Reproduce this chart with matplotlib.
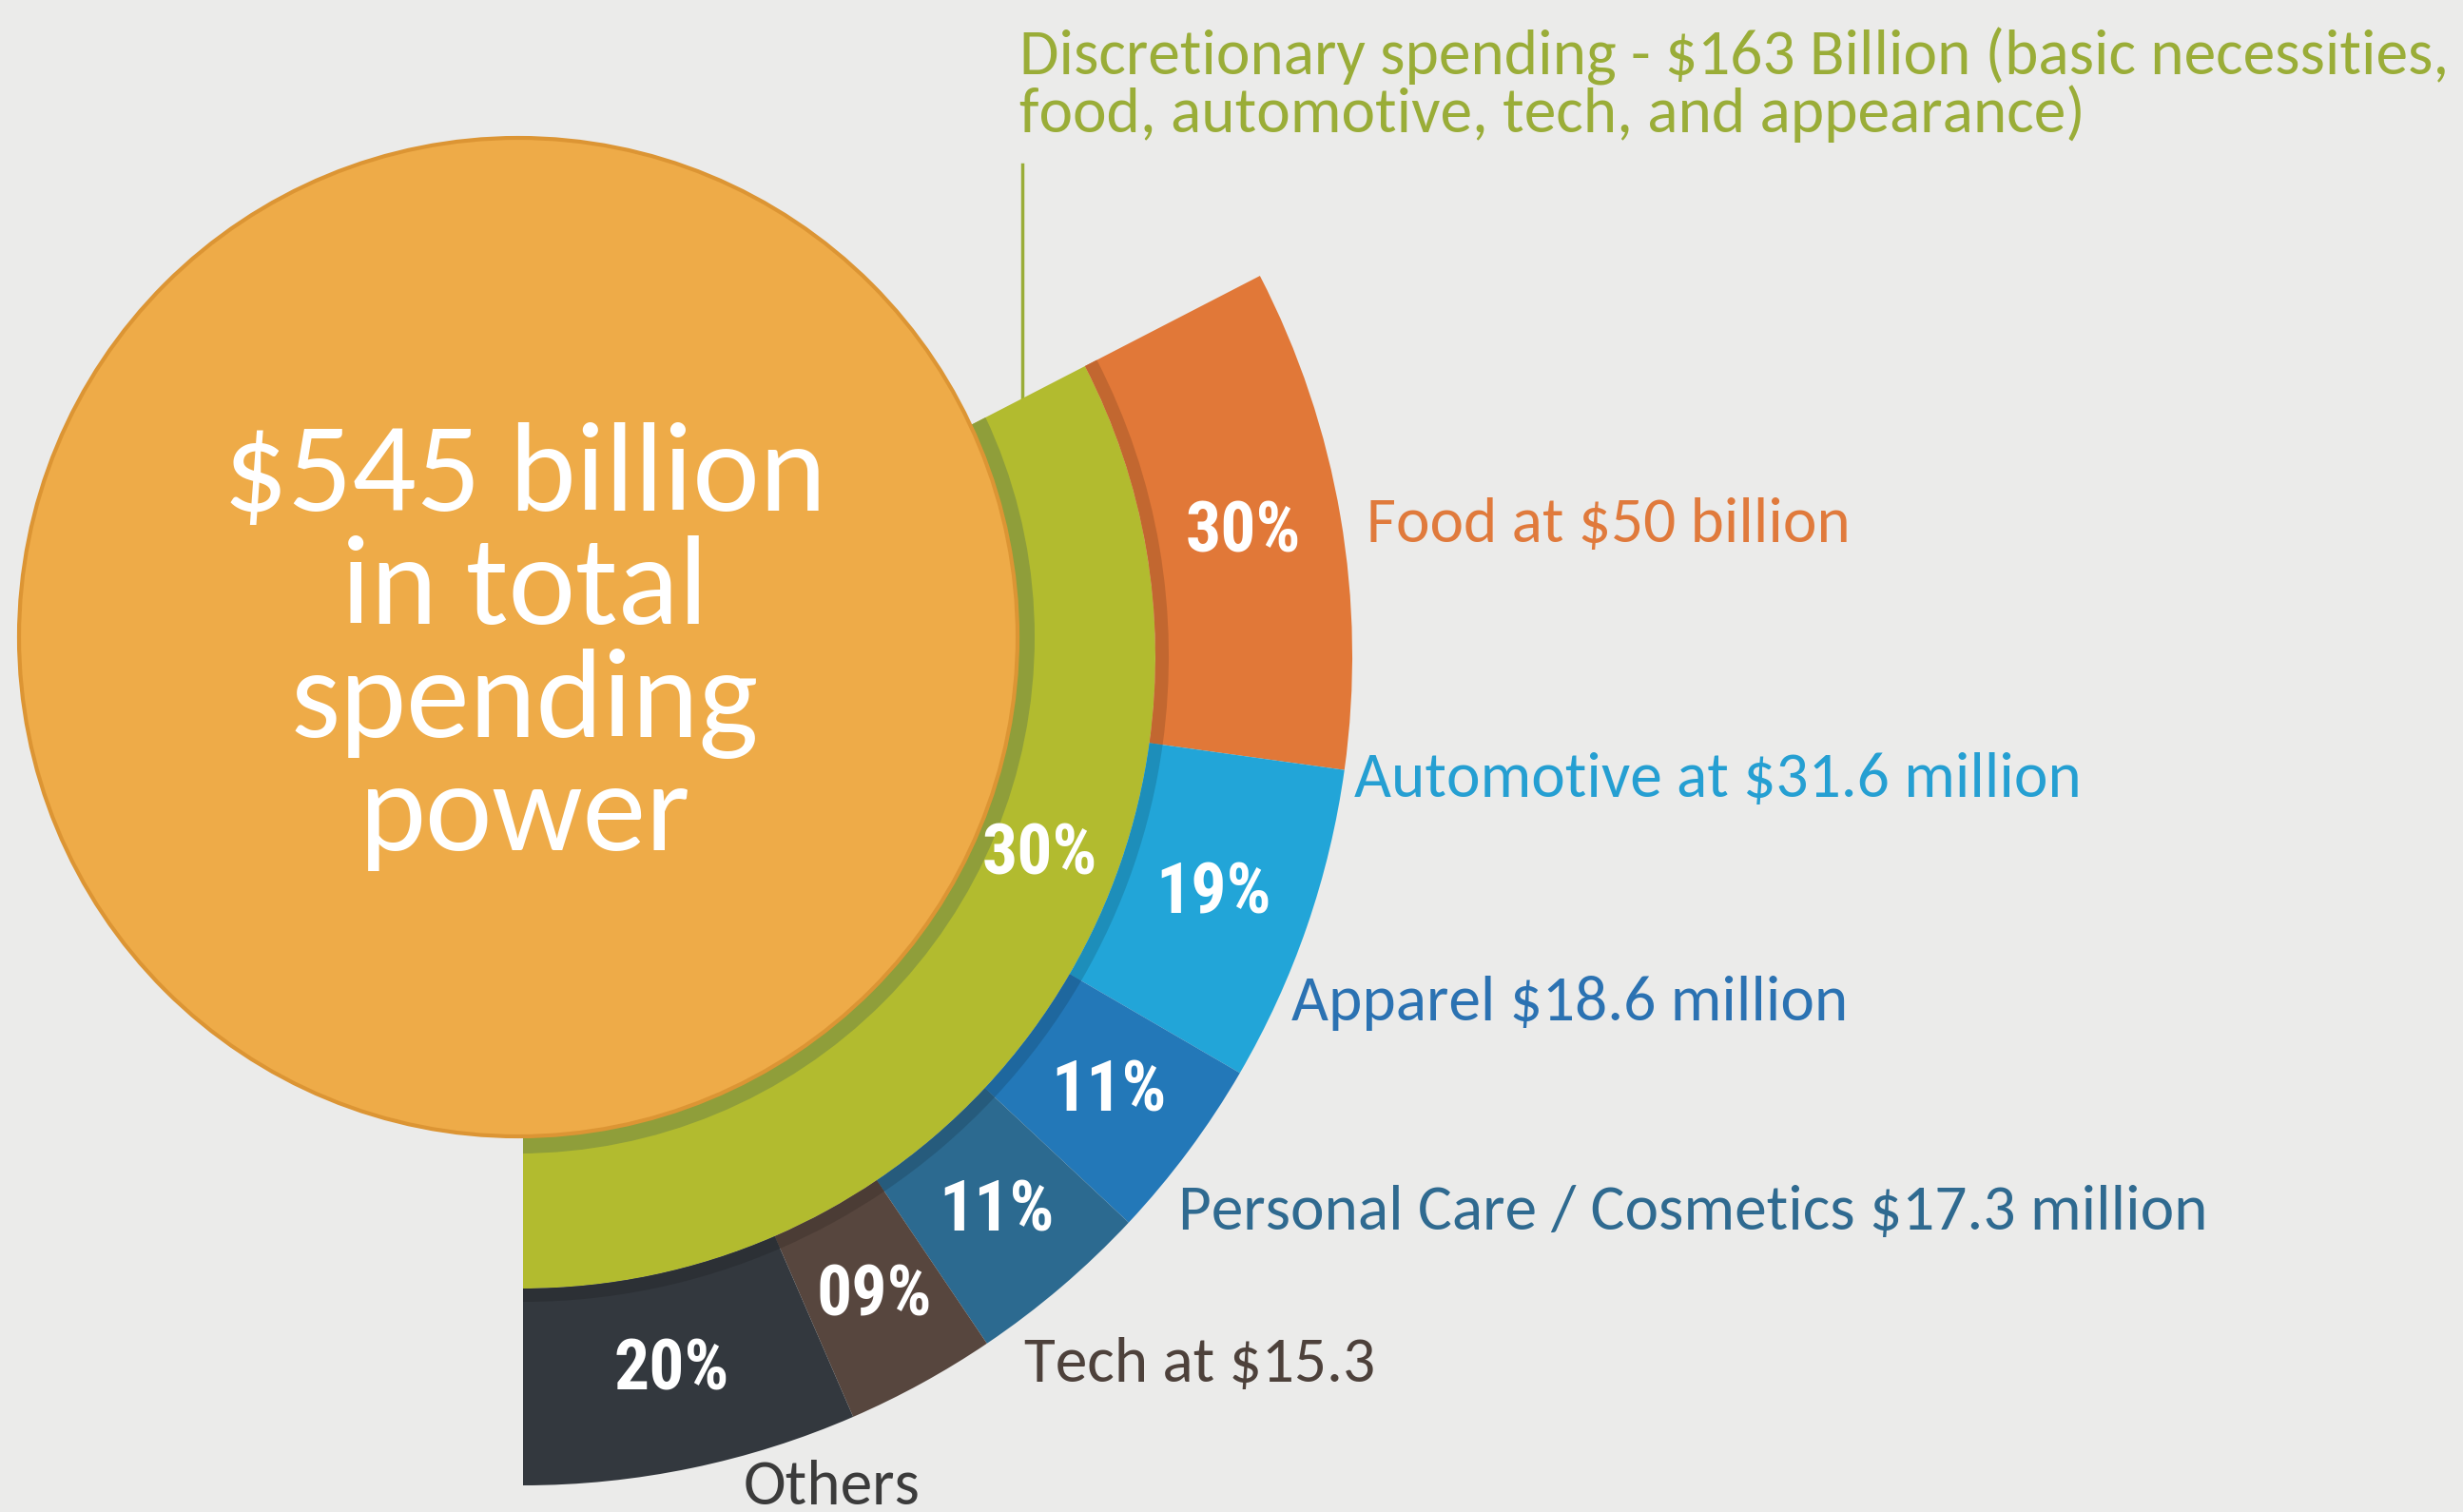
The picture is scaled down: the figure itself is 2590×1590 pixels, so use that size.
import matplotlib
matplotlib.use("Agg")
import matplotlib.pyplot as plt
from matplotlib import font_manager as fm
from matplotlib.patches import Wedge, Circle
from matplotlib.colors import to_rgb
import numpy as np

# ---- data -------------------------------------------------------------
categories = ["Food", "Automotive", "Apparel", "Personal Care / Cosmetics", "Tech", "Others"]
shares = [30, 19, 11, 11, 9, 20]
share_labels = ["30%", "19%", "11%", "11%", "09%", "20%"]
side_labels = [
    "Food at $50 billion",
    "Automotive at $31.6 million",
    "Apparel $18.6 million",
    "Personal Care / Cosmetics $17.3 million",
    "Tech at $15.3",
    "Others",
]
discretionary_label = "30%"
discretionary_note = ["Discretionary spending - $163 Billion (basic necessities,",
                      "food, automotive, tech, and appearance)"]
total_lines = ["$545 billion", "in total", "spending", "power"]

# ---- style -------------------------------------------------------------
seg_colors = ["#e17838", "#22a5d8", "#2378b8", "#2c6a90", "#57463e", "#33383e"]
label_colors = ["#e07a3c", "#259fd2", "#2b72b2", "#2f6a90", "#4d413b", "#3b3b3b"]
green = "#b2bb2f"
green_dark = "#8f9e3a"
green_text = "#9aad38"
orange = "#eeab48"
orange_edge = "#dc9534"
bg = "#ebebea"

available = {f.name for f in fm.fontManager.ttflist}


def pick(*names):
    for n in names:
        if n in available:
            return n
    return "DejaVu Sans"


BODY = pick("Carlito", "Lato", "Open Sans")
NUM = pick("Roboto Condensed", "Open Sans Condensed", "PT Sans Narrow", "Liberation Sans Narrow")

W, H = 2590, 1590
fig = plt.figure(figsize=(W / 100, H / 100), dpi=100)
fig.patch.set_facecolor(bg)
ax = fig.add_axes([0, 0, 1, 1])
ax.set_xlim(0, W)
ax.set_ylim(0, H)
ax.set_aspect("equal")
ax.axis("off")


def up(y):  # reference measured from the top
    return H - y


cx, cy = 550, up(690)
r_out, r_in = 872, 665
top_ang, bot_ang = 27.3, -90.0
sweep = top_ang - bot_ang
ocx, ocy, orad = 545, up(670), 525

# green discretionary sector and the shadow band round the orange circle
green_sector = Wedge((cx, cy), r_in, bot_ang, top_ang, facecolor=green, edgecolor="none", zorder=1)
ax.add_patch(green_sector)
band = Circle((ocx, ocy), orad + 18, facecolor=green_dark, edgecolor="none", zorder=2)
ax.add_patch(band)
band.set_clip_path(green_sector)

# outer ring: one wedge per category
frac = np.array(shares, dtype=float) / sum(shares)
ends = top_ang - sweep * np.cumsum(frac)
starts = np.concatenate([[top_ang], ends[:-1]])
for a1, a0, col, lab in zip(starts, ends, seg_colors, share_labels):
    ax.add_patch(Wedge((cx, cy), r_out, a0, a1, width=r_out - r_in,
                       facecolor=col, edgecolor="none", zorder=3))
    shade = tuple(c * 0.86 for c in to_rgb(col))
    ax.add_patch(Wedge((cx, cy), r_in + 14, a0, a1, width=14,
                       facecolor=shade, edgecolor="none", zorder=4))
    mid = np.radians((a0 + a1) / 2)
    ax.text(cx + 768 * np.cos(mid), cy + 768 * np.sin(mid), lab, color="white",
            fontsize=53, fontweight="bold", family=NUM, ha="center", va="center", zorder=6)

# big orange circle
ax.add_patch(Circle((ocx, ocy), orad, facecolor=orange, edgecolor=orange_edge,
                    linewidth=3, zorder=5))
for i, line in enumerate(total_lines):
    ax.text(552, up(537 + 119 * i), line, color="white", fontsize=96, family=BODY,
            ha="center", va="baseline", zorder=6)

ax.text(1093, up(900), discretionary_label, color="white", fontsize=53,
        fontweight="bold", family=NUM, ha="center", va="center", zorder=6)

# leader line and note for discretionary spending
lx = 1075
ly_end = cy + (lx - cx) * np.tan(np.radians(top_ang))
ax.plot([lx, lx], [up(173), ly_end], color=green_text, linewidth=2.5, zorder=0.5)
for i, line in enumerate(discretionary_note):
    ax.text(1072, up(79 + 60 * i), line, color=green_text, fontsize=48.5, family=BODY,
            ha="left", va="baseline")

# category labels
label_xy = [(1437, 570), (1424, 838), (1358, 1073), (1239, 1293), (1077, 1453), (782, 1582)]
for (x, y), text, col in zip(label_xy, side_labels, label_colors):
    ax.text(x, up(y), text, color=col, fontsize=48.5, family=BODY, ha="left", va="baseline")

fig.savefig("out.png", dpi=100, facecolor=bg)
